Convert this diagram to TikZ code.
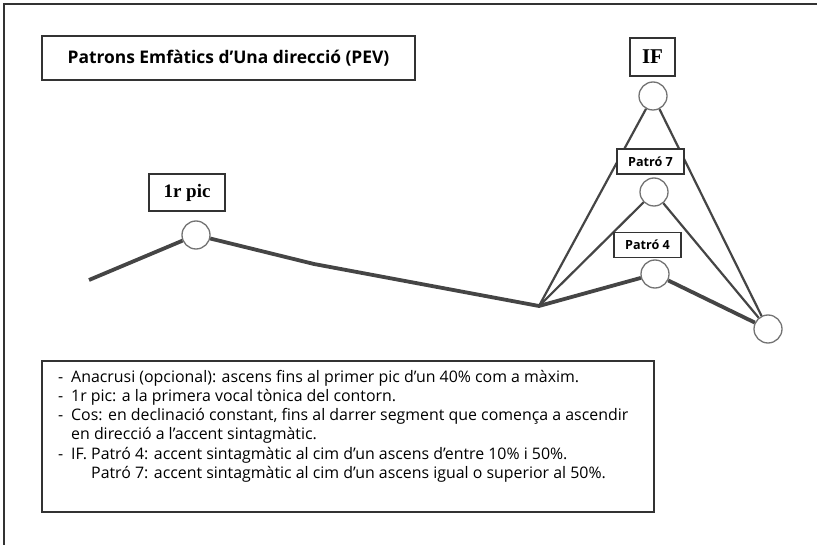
\documentclass[tikz,border=0pt]{standalone}
\usepackage{fontspec}
\setmainfont{Open Sans}
\newfontfamily\tagserif{Liberation Serif}
\begin{document}
\begin{tikzpicture}[x=1pt,y=-1pt,
    peak/.style={circle,draw=peakgray,line width=1.3pt,fill=white,minimum size=28pt,inner sep=0pt},
    tag/.style={draw=framegray,line width=1.2pt,fill=white,inner sep=0pt},
    contour/.style={draw=linegray,line width=3.8pt,line join=round},
    branch/.style={draw=linegray,line width=2.2pt},
]
  \definecolor{framegray}{rgb}{0.2,0.2,0.2}
  \definecolor{linegray}{rgb}{0.27,0.27,0.27}
  \definecolor{peakgray}{rgb}{0.45,0.45,0.45}
\useasboundingbox (0,0) rectangle (817,545);

%%%%%%%%%%%%%%%% frame
\coordinate (topright) at (817,4);
\coordinate (corner) at (4,4);
\coordinate (bottomleft) at (4,545);
\draw[framegray,line width=1.8pt] (topright) -- (corner) -- (bottomleft);

%%%%%%%%%%%%%%%% labels
\node[tag,minimum width=373pt,minimum height=44pt,font=\bfseries\fontsize{17.4}{21}\selectfont] (title) at (228.5,58) {Patrons Emfàtics d’Una direcció (PEV)};
\node[tag,minimum width=45pt,minimum height=38pt,font=\tagserif\bfseries\fontsize{21}{24}\selectfont] (iftag) at (652.5,57) {IF};
\node[tag,minimum width=76pt,minimum height=37pt,font=\tagserif\bfseries\fontsize{19}{22}\selectfont] (pictag) at (187,192.5) {1r pic};

%%%%%%%%%%%%%%%% peaks
\node[peak] (pic1) at (196,235) {};
\node[peak] (ifpeak) at (653,96) {};
\node[peak] (p7peak) at (654,192) {};
\node[peak] (p4peak) at (655,274) {};
\node[peak] (fin) at (768,329) {};
\coordinate (start) at (89,280);
\coordinate (kink) at (314,264);
\coordinate (valley) at (539,306);

%% contour
\draw[contour] (start) -- (pic1);
\draw[contour] (pic1) -- (kink) -- (valley) -- (p4peak);
\draw[contour] (p4peak) -- (fin);

%% splits
\draw[branch] (valley) -- (p7peak);
\draw[branch] (valley) -- (ifpeak);
\draw[branch] (p7peak) -- (fin);
\draw[branch] (ifpeak) -- (fin);

\node[tag,minimum width=67pt,minimum height=25pt,font=\bfseries\fontsize{12.6}{14}\selectfont] (p7tag) at (650.5,161.5) {Patró 7};
\node[tag,minimum width=67pt,minimum height=25pt,font=\bfseries\fontsize{12.6}{14}\selectfont] (p4tag) at (647.5,245) {Patró 4};

%%%%%%%%%%%%%%%% notes
\node[tag,minimum width=612pt,minimum height=151pt] (notebox) at (348,436.5) {};
\node[anchor=north west,inner sep=0pt,align=left,font=\fontsize{15.9}{19.2}\selectfont] (notes) at (58,370)
  {\makebox[13pt][l]{-}Anacrusi (opcional): ascens fins al primer pic d’un 40\% com a màxim.\\
   \makebox[13pt][l]{-}1r pic: a la primera vocal tònica del contorn.\\
   \makebox[13pt][l]{-}Cos: en declinació constant, fins al darrer segment que comença a ascendir\\
   \hspace*{13pt}en direcció a l’accent sintagmàtic.\\
   \makebox[13pt][l]{-}\makebox[20pt][l]{IF.}Patró 4: accent sintagmàtic al cim d’un ascens d’entre 10\% i 50\%.\\
   \hspace*{33pt}Patró 7: accent sintagmàtic al cim d’un ascens igual o superior al 50\%.};

\end{tikzpicture}
\end{document}
